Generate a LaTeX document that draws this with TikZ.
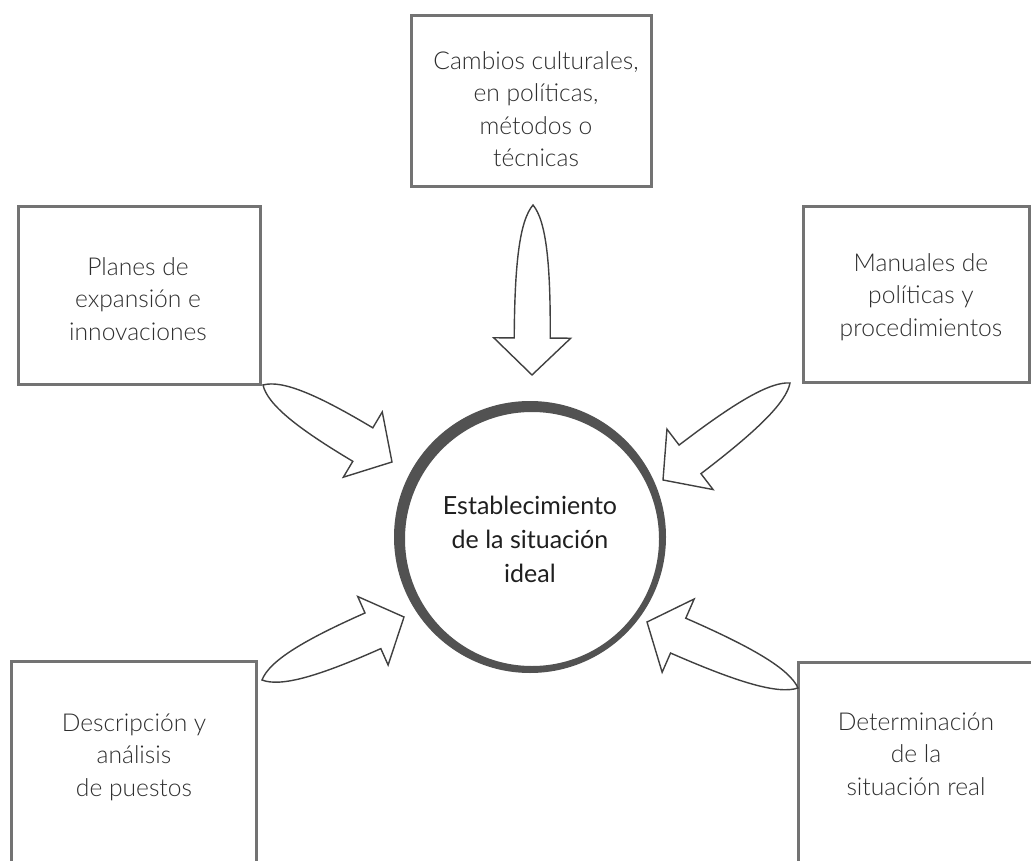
\documentclass[tikz,border=0pt]{standalone}
\usepackage{fontspec}
\setmainfont{Lato}
\newfontfamily\lightfont{Lato Light}
\newcommand\fatarrow[5]{%
  \pgfmathanglebetweenpoints{\pgfpointanchor{#1}{center}}{\pgfpointanchor{#2}{center}}%
  \let\faang\pgfmathresult
  \pgfpointdiff{\pgfpointanchor{#1}{center}}{\pgfpointanchor{#2}{center}}%
  \pgfgetlastxy{\fadx}{\fady}%
  \pgfmathsetmacro\falen{veclen(\fadx,\fady)}%
  \pgfmathsetmacro\fas{\falen-#5}%
  \begin{scope}[shift={(#1)}, rotate=\faang, x=1pt, y=1pt]
    \draw[fatarrowstyle] (0,0) .. controls ({0.12*\fas},{0.75*#3}) and ({0.45*\fas},#3) .. (\fas,#3)
      -- (\fas,#4) -- (\falen,0) -- (\fas,-#4) -- (\fas,-#3)
      .. controls ({0.45*\fas},-#3) and ({0.12*\fas},{-0.75*#3}) .. cycle;
  \end{scope}}
\begin{document}
\begin{tikzpicture}[x=1pt,y=-1pt,
  box/.style={draw=black!55, line width=2.6pt, rectangle, inner sep=0pt, anchor=north west},
  boxtext/.style={font=\lightfont\fontsize{24.6}{32.5}\selectfont, text=black!82, align=center, inner sep=0pt},
  centertext/.style={font=\fontsize{25}{34}\selectfont, text=black!88, align=center, inner sep=0pt},
  ring/.style={fill=black!68},
  fatarrowstyle/.style={draw=black!75, line width=1.4pt, fill=white, line join=miter},
]
\useasboundingbox (0,0) rectangle (1031,861);
\clip (0,0) rectangle (1031,861);

% boxes
\node[box, minimum width=240pt, minimum height=171pt] (btop) at (410,14) {};
\node[box, minimum width=242pt, minimum height=178pt] (bleft) at (17,205) {};
\node[box, minimum width=226pt, minimum height=176pt] (bright) at (802,205) {};
\node[box, minimum width=245pt, minimum height=240pt] (bbl) at (10,660) {};
\node[box, minimum width=250pt, minimum height=240pt] (bbr) at (797,661) {};

% box texts
\node[boxtext] (ttop) at (536,109) {Cambios culturales,\\en políticas,\\métodos o\\técnicas};
\node[boxtext] (tleft) at (138,299) {Planes de\\expansión e\\innovaciones};
\node[boxtext] (tright) at (921,297) {Manuales de\\políticas y\\procedimientos};
\node[boxtext] (tbl) at (134,757) {Descripción y\\análisis\\de puestos};
\node[boxtext] (tbr) at (916,754) {Determinación\\de la\\situación real};

% central circle
\fill[ring, even odd rule] (530,537) circle[radius=136] (532,539) circle[radius=127];
\node[centertext] (center) at (530,539) {Establecimiento\\de la situación\\ideal};

% arrows
\coordinate (tT) at (533,205);  \coordinate (hT) at (532,375);
\coordinate (tUL) at (263,385); \coordinate (hUL) at (392,462);
\coordinate (tUR) at (790,383); \coordinate (hUR) at (663,480);
\coordinate (tLL) at (262,680); \coordinate (hLL) at (404,617);
\coordinate (tLR) at (798,688); \coordinate (hLR) at (647,622);

\fatarrow{tT}{hT}{18}{38.5}{37}
\fatarrow{tUL}{hUL}{19.5}{38}{34}
\fatarrow{tUR}{hUR}{18}{38}{34}
\fatarrow{tLL}{hLL}{19.5}{37.5}{34}
\fatarrow{tLR}{hLR}{19}{40}{34}
\end{tikzpicture}
\end{document}
